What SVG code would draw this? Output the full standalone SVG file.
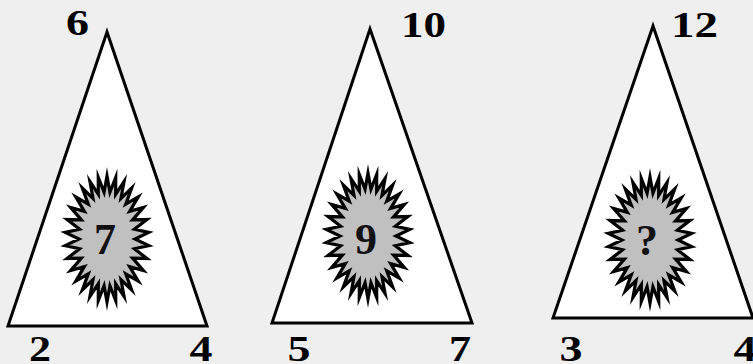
<svg xmlns="http://www.w3.org/2000/svg" xmlns:xlink="http://www.w3.org/1999/xlink" width="753" height="364" viewBox="0 0 753 364">
<style>
.tri{fill:#ffffff;stroke:#000000;stroke-width:3;stroke-linejoin:miter}
.burst{fill:#c0c0c0;stroke:#000000;stroke-width:3.2;stroke-linejoin:miter;stroke-miterlimit:10}
.lbl{font-family:"Liberation Serif","Times New Roman",serif;font-weight:bold;font-size:36px;fill:#000;text-anchor:middle}
.mid{font-family:"Liberation Serif","Times New Roman",serif;font-weight:bold;font-size:44px;fill:#111;text-anchor:middle}
</style>
<defs>
<polygon id="burst" class="burst" points="0,-63 2.93,-46.75 8.73,-61.62 8.65,-44.7 17.08,-57.55 14,-40.7 24.69,-50.97 18.74,-34.93 31.21,-42.15 22.65,-27.63 36.37,-31.5 25.58,-19.12 39.95,-19.47 27.39,-9.77 41.77,-6.58 28,0 41.77,6.58 27.39,9.77 39.95,19.47 25.58,19.12 36.37,31.5 22.65,27.63 31.21,42.15 18.74,34.93 24.69,50.97 14,40.7 17.08,57.55 8.65,44.7 8.73,61.62 2.93,46.75 0,63 -2.93,46.75 -8.73,61.62 -8.65,44.7 -17.08,57.55 -14,40.7 -24.69,50.97 -18.74,34.93 -31.21,42.15 -22.65,27.63 -36.37,31.5 -25.58,19.12 -39.95,19.47 -27.39,9.77 -41.77,6.58 -28,0 -41.77,-6.58 -27.39,-9.77 -39.95,-19.47 -25.58,-19.12 -36.37,-31.5 -22.65,-27.63 -31.21,-42.15 -18.74,-34.93 -24.69,-50.97 -14,-40.7 -17.08,-57.55 -8.65,-44.7 -8.73,-61.62 -2.93,-46.75"/>
</defs>
<rect x="0" y="0" width="753" height="364" fill="#efefef"/>
<g id="triangle1">
<polygon class="tri" points="107,32 8,326 207,326"/>
<use xlink:href="#burst" href="#burst" x="107" y="239"/>
<text class="mid" x="105" y="254">7</text>
<text class="lbl" x="77.5" y="35" textLength="23" lengthAdjust="spacingAndGlyphs">6</text>
<text class="lbl" x="40" y="361" textLength="22" lengthAdjust="spacingAndGlyphs">2</text>
<text class="lbl" x="201" y="361" textLength="23" lengthAdjust="spacingAndGlyphs">4</text>
</g>
<g id="triangle2">
<polygon class="tri" points="370,29 272,323 472,323"/>
<use xlink:href="#burst" href="#burst" x="368" y="236"/>
<text class="mid" x="366" y="254">9</text>
<text class="lbl" x="423.5" y="37" textLength="45" lengthAdjust="spacingAndGlyphs">10</text>
<text class="lbl" x="299" y="361" textLength="23" lengthAdjust="spacingAndGlyphs">5</text>
<text class="lbl" x="460" y="361" textLength="22" lengthAdjust="spacingAndGlyphs">7</text>
</g>
<g id="triangle3">
<polygon class="tri" points="653,26 553,318 753,318"/>
<use xlink:href="#burst" href="#burst" x="650" y="240"/>
<text class="mid" x="647" y="255">?</text>
<text class="lbl" x="694.5" y="37" textLength="47" lengthAdjust="spacingAndGlyphs">12</text>
<text class="lbl" x="571" y="361" textLength="23" lengthAdjust="spacingAndGlyphs">3</text>
<text class="lbl" x="745" y="361" textLength="23" lengthAdjust="spacingAndGlyphs">4</text>
</g>
</svg>
